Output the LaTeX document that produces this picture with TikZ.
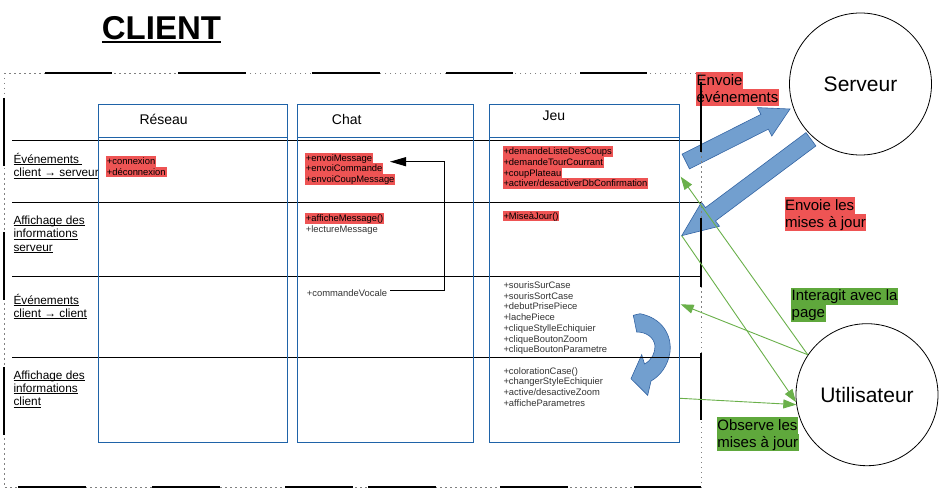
\documentclass[tikz,border=0pt]{standalone}
\usepackage{fontspec}
\setmainfont{Liberation Sans}
\usetikzlibrary{arrows.meta,calc}
\definecolor{hlred}{HTML}{EE5454}
\definecolor{hlgreen}{HTML}{5FA83C}
\definecolor{boxblue}{HTML}{1F63A8}
\definecolor{arrfill}{HTML}{729FCF}
\definecolor{arredge}{HTML}{3465A4}
\definecolor{lnkgreen}{HTML}{6AB04A}
\newcommand\istrut{\rule[-2.1pt]{0pt}{10.7pt}}
\newcommand\bstrut{\rule[-4pt]{0pt}{17.2pt}}
\newcommand\lstrut{\rule{0pt}{11pt}}
\newcommand\hli[1]{{\setlength{\fboxsep}{0pt}\colorbox{hlred}{\kern0.8pt\istrut #1\kern0.8pt}}}
\newcommand\nli[1]{{\color{black!80}\kern0.8pt\istrut #1}}
\newcommand\hlb[2]{{\setlength{\fboxsep}{0pt}\colorbox{#1}{\kern0.5pt\bstrut #2\kern0.5pt}}}
\newcommand\ulx[1]{\setbox0\hbox{#1}\rlap{\rule[-1.6pt]{\wd0}{0.65pt}}\box0}
\begin{document}
\begin{tikzpicture}[x=1pt,y=-1pt,
  items/.style={anchor=north west, inner sep=0pt, align=left, font=\fontsize{9.4}{10.7}\selectfont},
  biglbl/.style={anchor=north west, inner sep=0pt, align=left, font=\fontsize{15}{17.2}\selectfont},
  rowlbl/.style={anchor=north west, inner sep=0pt, align=left, font=\fontsize{11.8}{13.3}\selectfont},
  colhead/.style={anchor=base west, inner sep=0pt, font=\fontsize{14}{16}\selectfont},
  actor/.style={circle, draw=black, line width=0.8pt, minimum size=142pt, inner sep=0pt, font=\fontsize{21}{24}\selectfont},
  frameblue/.style={draw=boxblue, line width=1.2pt},
  rowline/.style={draw=black, line width=1pt},
  dotframe/.style={draw=gray, line width=0.9pt, dash pattern=on 1.5pt off 3.5pt},
  solidseg/.style={draw=black, line width=1.3pt},
  bigarrow/.style={fill=arrfill, draw=arredge, line width=0.6pt},
  greenlink/.style={draw=lnkgreen, line width=0.9pt, -{Triangle[length=13pt,width=9pt]}},
  blacklink/.style={draw=black, line width=1pt, -{Triangle[length=16pt,width=9pt]}}
]
\useasboundingbox (0,0) rectangle (940,500);
\fill[white] (0,0) rectangle (940,500);

% title
\node[anchor=base west, inner sep=0pt, font=\fontsize{33}{37}\selectfont\bfseries] (title) at (101.7,39.5)
  {\setbox0\hbox{CLIENT}\rlap{\rule[-3.6pt]{\wd0}{2.3pt}}\box0};

% big blue arrows
\draw[bigarrow] (682.1,154.1) -- (760.9,114.4) -- (757.4,107.6) -- (790,109) -- (771.8,136) -- (768.3,129.2) -- (689.5,168.9) -- cycle;
\draw[bigarrow] (806,132.6) -- (705.5,207.6) -- (701.5,202.2) -- (681.7,235.7) -- (719.5,226.2) -- (715.5,220.9) -- (815.9,145.9) -- cycle;

% curved arrow in Jeu
\draw[bigarrow] (633.3,315.3) -- (640,313.7) .. controls (662,318) and (672,335) .. (670,352)
  .. controls (668,366) and (660,376) .. (651,381) -- (647.7,395.3) -- (631,378.7) -- (641.7,354.7)
  -- (644.5,364) .. controls (652,360) and (655,353) .. (655,346)
  .. controls (654,337) and (646,332) .. (636.7,332) -- cycle;

% highlighted labels
\node[biglbl] (envev) at (696,71.7) {\hlb{hlred}{Envoie}\\\hlb{hlred}{événements}};
\node[biglbl] (envmaj) at (784.3,196.7) {\hlb{hlred}{Envoie les}\\\hlb{hlred}{mises à jour}};
\node[biglbl] (inter) at (791,287.3) {\hlb{hlgreen}{Interagit avec la}\\\hlb{hlgreen}{page}};
\node[biglbl] (obs) at (716.7,416.7) {\hlb{hlgreen}{Observe les}\\\hlb{hlgreen}{mises à jour}};

% actors
\node[actor] (serveur) at (860.5,84) {Serveur};
\node[actor] (user) at (867,394.7) {Utilisateur};

% frame
\draw[dotframe] (4,73) rectangle (701,487);
\foreach \a/\b in {45/112,178/246,312/380,446/513,580/647} \draw[solidseg] (\a,73) -- (\b,73);
\foreach \a/\b in {18/86,152/220,285/353,368/436,500/568,634/701} \draw[solidseg] (\a,487) -- (\b,487);
\foreach \a/\b in {98/166,232/300,367/435} \draw[solidseg] (4,\a) -- (4,\b);
\foreach \a/\b in {82/152,218/287,353/420} \draw[solidseg] (701,\a) -- (701,\b);

% rows
\foreach \y in {141,202,276,357} \draw[rowline] (12.3,\y) -- (701,\y);

% row labels
\node[rowlbl] (l1) at (13.3,152.3) {\lstrut\ulx{Événements\ }\\\ulx{client → serveur}};
\node[rowlbl] (l2) at (13.3,213.3) {\lstrut\ulx{Affichage des}\\\ulx{informations}\\\ulx{serveur}};
\node[rowlbl] (l3) at (13.3,293) {\lstrut\ulx{Événements}\\\ulx{client → client}};
\node[rowlbl] (l4) at (13.3,368) {\lstrut\ulx{Affichage des}\\\ulx{informations}\\\ulx{client}};

% columns
\draw[frameblue] (98.3,104.3) rectangle (287.3,442.3);
\draw[frameblue] (98.3,137.3) -- (287.3,137.3);
\draw[frameblue] (297.3,104.3) rectangle (473.3,442.3);
\draw[frameblue] (297.3,137.3) -- (473.3,137.3);
\draw[frameblue] (489.3,104.3) rectangle (679.3,442.3);
\draw[frameblue] (489.3,137.3) -- (679.3,137.3);

\node[colhead] (hres) at (139.3,125) {Réseau};
\node[colhead] (hchat) at (331.7,124.3) {Chat};
\node[colhead] (hjeu) at (542.3,121) {Jeu};

% items
\node[items] (res1) at (105.9,155.7) {\hli{+connexion}\\\hli{+déconnexion}};
\node[items] (chat1) at (304.9,152.3) {\hli{+envoiMessage}\\\hli{+envoiCommande}\\\hli{+envoiCoupMessage}};
\node[items] (jeu1) at (502.5,146) {\hli{+demandeListeDesCoups}\\\hli{+demandeTourCourrant}\\\hli{+coupPlateau}\\\hli{+activer/desactiverDbConfirmation}};
\node[items] (chat2) at (304.9,212.7) {\hli{+afficheMessage()}\\\nli{+lectureMessage}};
\node[items] (jeu2) at (502.5,210.3) {\hli{+MiseàJour()}};
\node[items] (chat3) at (305.9,287.4) {\nli{+commandeVocale}};
\node[items] (jeu3) at (502.5,279.7) {\nli{+sourisSurCase}\\\nli{+sourisSortCase}\\\nli{+debutPrisePiece}\\\nli{+lachePiece}\\\nli{+cliqueStylleEchiquier}\\\nli{+cliqueBoutonZoom}\\\nli{+cliqueBoutonParametre}};
\node[items] (jeu4) at (502.5,365.4) {\nli{+colorationCase()}\\\nli{+changerStyleEchiquier}\\\nli{+active/desactiveZoom}\\\nli{+afficheParametres}};

% chat arrow
\coordinate (cvs) at (390,290);
\coordinate (cve) at (390,161.7);
\draw[blacklink] (cvs) -- ++(54.3,0) |- (cve);

% green links
\coordinate (jA) at (680.7,176.7);
\coordinate (jB) at (680.7,304.3);
\coordinate (jC) at (681.7,235.7);
\coordinate (jD) at (680,398.3);
\draw[greenlink] (user.146.6) -- (jA);
\draw[greenlink] (user.146.6) -- (jB);
\draw[greenlink] (jC) -- (user.186);
\draw[greenlink] (jD) -- (user.188.5);
\end{tikzpicture}
\end{document}
